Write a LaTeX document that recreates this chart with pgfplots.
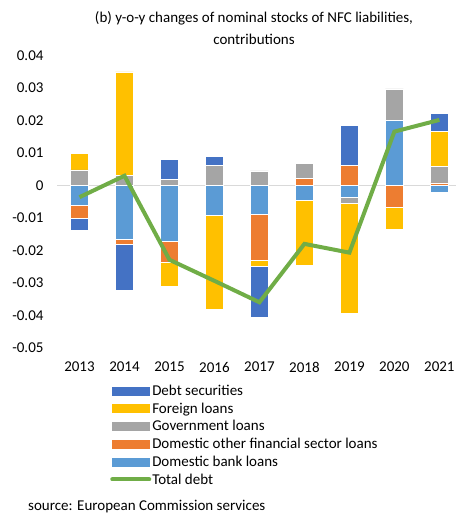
\documentclass[border=0pt]{standalone}
\usepackage{fontspec}
\setmainfont{Carlito}
\usepackage{pgfplots}
\pgfplotsset{compat=1.18}
\usepackage{pgfplotstable}
\definecolor{cds}{HTML}{4472C4}
\definecolor{cfor}{HTML}{FFC000}
\definecolor{cgov}{HTML}{A5A5A5}
\definecolor{cofs}{HTML}{ED7D31}
\definecolor{cbank}{HTML}{5B9BD5}
\definecolor{cgreen}{HTML}{70AD47}
% positive contributions
\pgfplotstableread{
x bank ofs gov for ds
0 0 0 0.0048 0.0052 0
1 0 0 0.0031 0.0319 0
2 0 0 0.0018 0 0.0063
3 0 0 0.0063 0 0.0026
4 0 0 0.0045 0 0
5 0 0.0022 0.0046 0 0
6 0 0.0063 0 0 0.0122
7 0.0200 0 0.0098 0 0
8 0 0.0008 0.0051 0.0108 0.0055
}\postab
% negative contributions
\pgfplotstableread{
x bank ofs gov for ds
0 -0.0062 -0.0039 0 0 -0.0036
1 -0.0166 -0.0016 0 0 -0.0141
2 -0.0173 -0.0064 0 -0.0073 0
3 -0.0092 0 0 -0.0291 0
4 -0.0089 -0.0141 0 -0.0018 -0.0158
5 -0.0045 0 0 -0.0202 0
6 -0.0036 0 -0.0019 -0.0338 0
7 0 -0.0067 0 -0.0067 0
8 -0.0022 0 0 0 0
}\negtab
% total debt
\pgfplotstableread{
x total
0 -0.0036
1 0.0030
2 -0.0229
3 -0.0294
4 -0.0360
5 -0.0180
6 -0.0207
7 0.0166
8 0.0202
}\tottab
\pgfplotsset{base/.style={
  scale only axis, width=399pt, height=292pt,
  at={(57pt,171.3pt)}, anchor=south west,
  xmin=-0.5, xmax=8.37, ymin=-0.05, ymax=0.04,
  axis line style={draw=none}, major tick length=0pt,
  scaled y ticks=false, scaled x ticks=false,
  tick label style={font=\fontsize{15}{18}\selectfont},
}, barsty/.style={draw=white, line width=0.5pt}}
\begin{document}
\begin{tikzpicture}
\useasboundingbox (0,0) rectangle (456pt,519pt);
\begin{axis}[base, ybar stacked, bar width=18pt,
  xtick={0,...,8}, xticklabels={2013,2014,2015,2016,2017,2018,2019,2020,2021},
  xticklabel style={yshift=-11pt},
  ytick={-0.05,-0.04,-0.03,-0.02,-0.01,0,0.01,0.02,0.03,0.04},
  yticklabels={-0.05,-0.04,-0.03,-0.02,-0.01,0,0.01,0.02,0.03,0.04},
  yticklabel style={xshift=-10pt},
  extra y ticks={0}, extra y tick labels={},
  extra y tick style={grid=major, major grid style={draw=black!15, line width=1pt}},
]
\addplot[barsty, fill=cbank] table[x=x,y=bank]{\postab};
\addplot[barsty, fill=cofs] table[x=x,y=ofs]{\postab};
\addplot[barsty, fill=cgov] table[x=x,y=gov]{\postab};
\addplot[barsty, fill=cfor] table[x=x,y=for]{\postab};
\addplot[barsty, fill=cds] table[x=x,y=ds]{\postab};
\end{axis}
\begin{axis}[base, ybar stacked, bar width=18pt, xtick=\empty, ytick=\empty]
\addplot[barsty, fill=cbank] table[x=x,y=bank]{\negtab};
\addplot[barsty, fill=cofs] table[x=x,y=ofs]{\negtab};
\addplot[barsty, fill=cgov] table[x=x,y=gov]{\negtab};
\addplot[barsty, fill=cfor] table[x=x,y=for]{\negtab};
\addplot[barsty, fill=cds] table[x=x,y=ds]{\negtab};
\end{axis}
\begin{axis}[base, xtick=\empty, ytick=\empty,
  legend style={at={(rel axis cs:0.133,-0.117)}, anchor=north west,
    draw=none, fill=none, inner sep=0pt, row sep=0pt, column sep=0pt,
    font=\fontsize{15}{18}\selectfont,
    nodes={inner sep=1pt, text height=12.5pt, text depth=3.2pt}},
  legend cell align=left,
]
\addlegendimage{legend image code/.code={\fill[cds] (0pt,-4pt) rectangle (37pt,4pt);}}
\addlegendentry{Debt securities}
\addlegendimage{legend image code/.code={\fill[cfor] (0pt,-4pt) rectangle (37pt,4pt);}}
\addlegendentry{Foreign loans}
\addlegendimage{legend image code/.code={\fill[cgov] (0pt,-4pt) rectangle (37pt,4pt);}}
\addlegendentry{Government loans}
\addlegendimage{legend image code/.code={\fill[cofs] (0pt,-4pt) rectangle (37pt,4pt);}}
\addlegendentry{Domestic other financial sector loans}
\addlegendimage{legend image code/.code={\fill[cbank] (0pt,-4pt) rectangle (37pt,4pt);}}
\addlegendentry{Domestic bank loans}
\addplot[cgreen, line width=4pt, sharp plot, mark=none,
  legend image code/.code={\draw[cgreen, line width=4pt, line cap=round] (0pt,0pt) -- (37pt,0pt);}]
  table[x=x,y=total]{\tottab};
\addlegendentry{Total debt}
\end{axis}
\node[align=center, font=\fontsize{15}{22}\selectfont] at (254pt,491pt)
  {(b) y-o-y changes of nominal stocks of NFC liabilities,\\contributions};
\node[anchor=west, inner sep=0pt, font=\fontsize{15}{18}\selectfont] at (28pt,12pt)
  {source: European Commission services};
\end{tikzpicture}
\end{document}
